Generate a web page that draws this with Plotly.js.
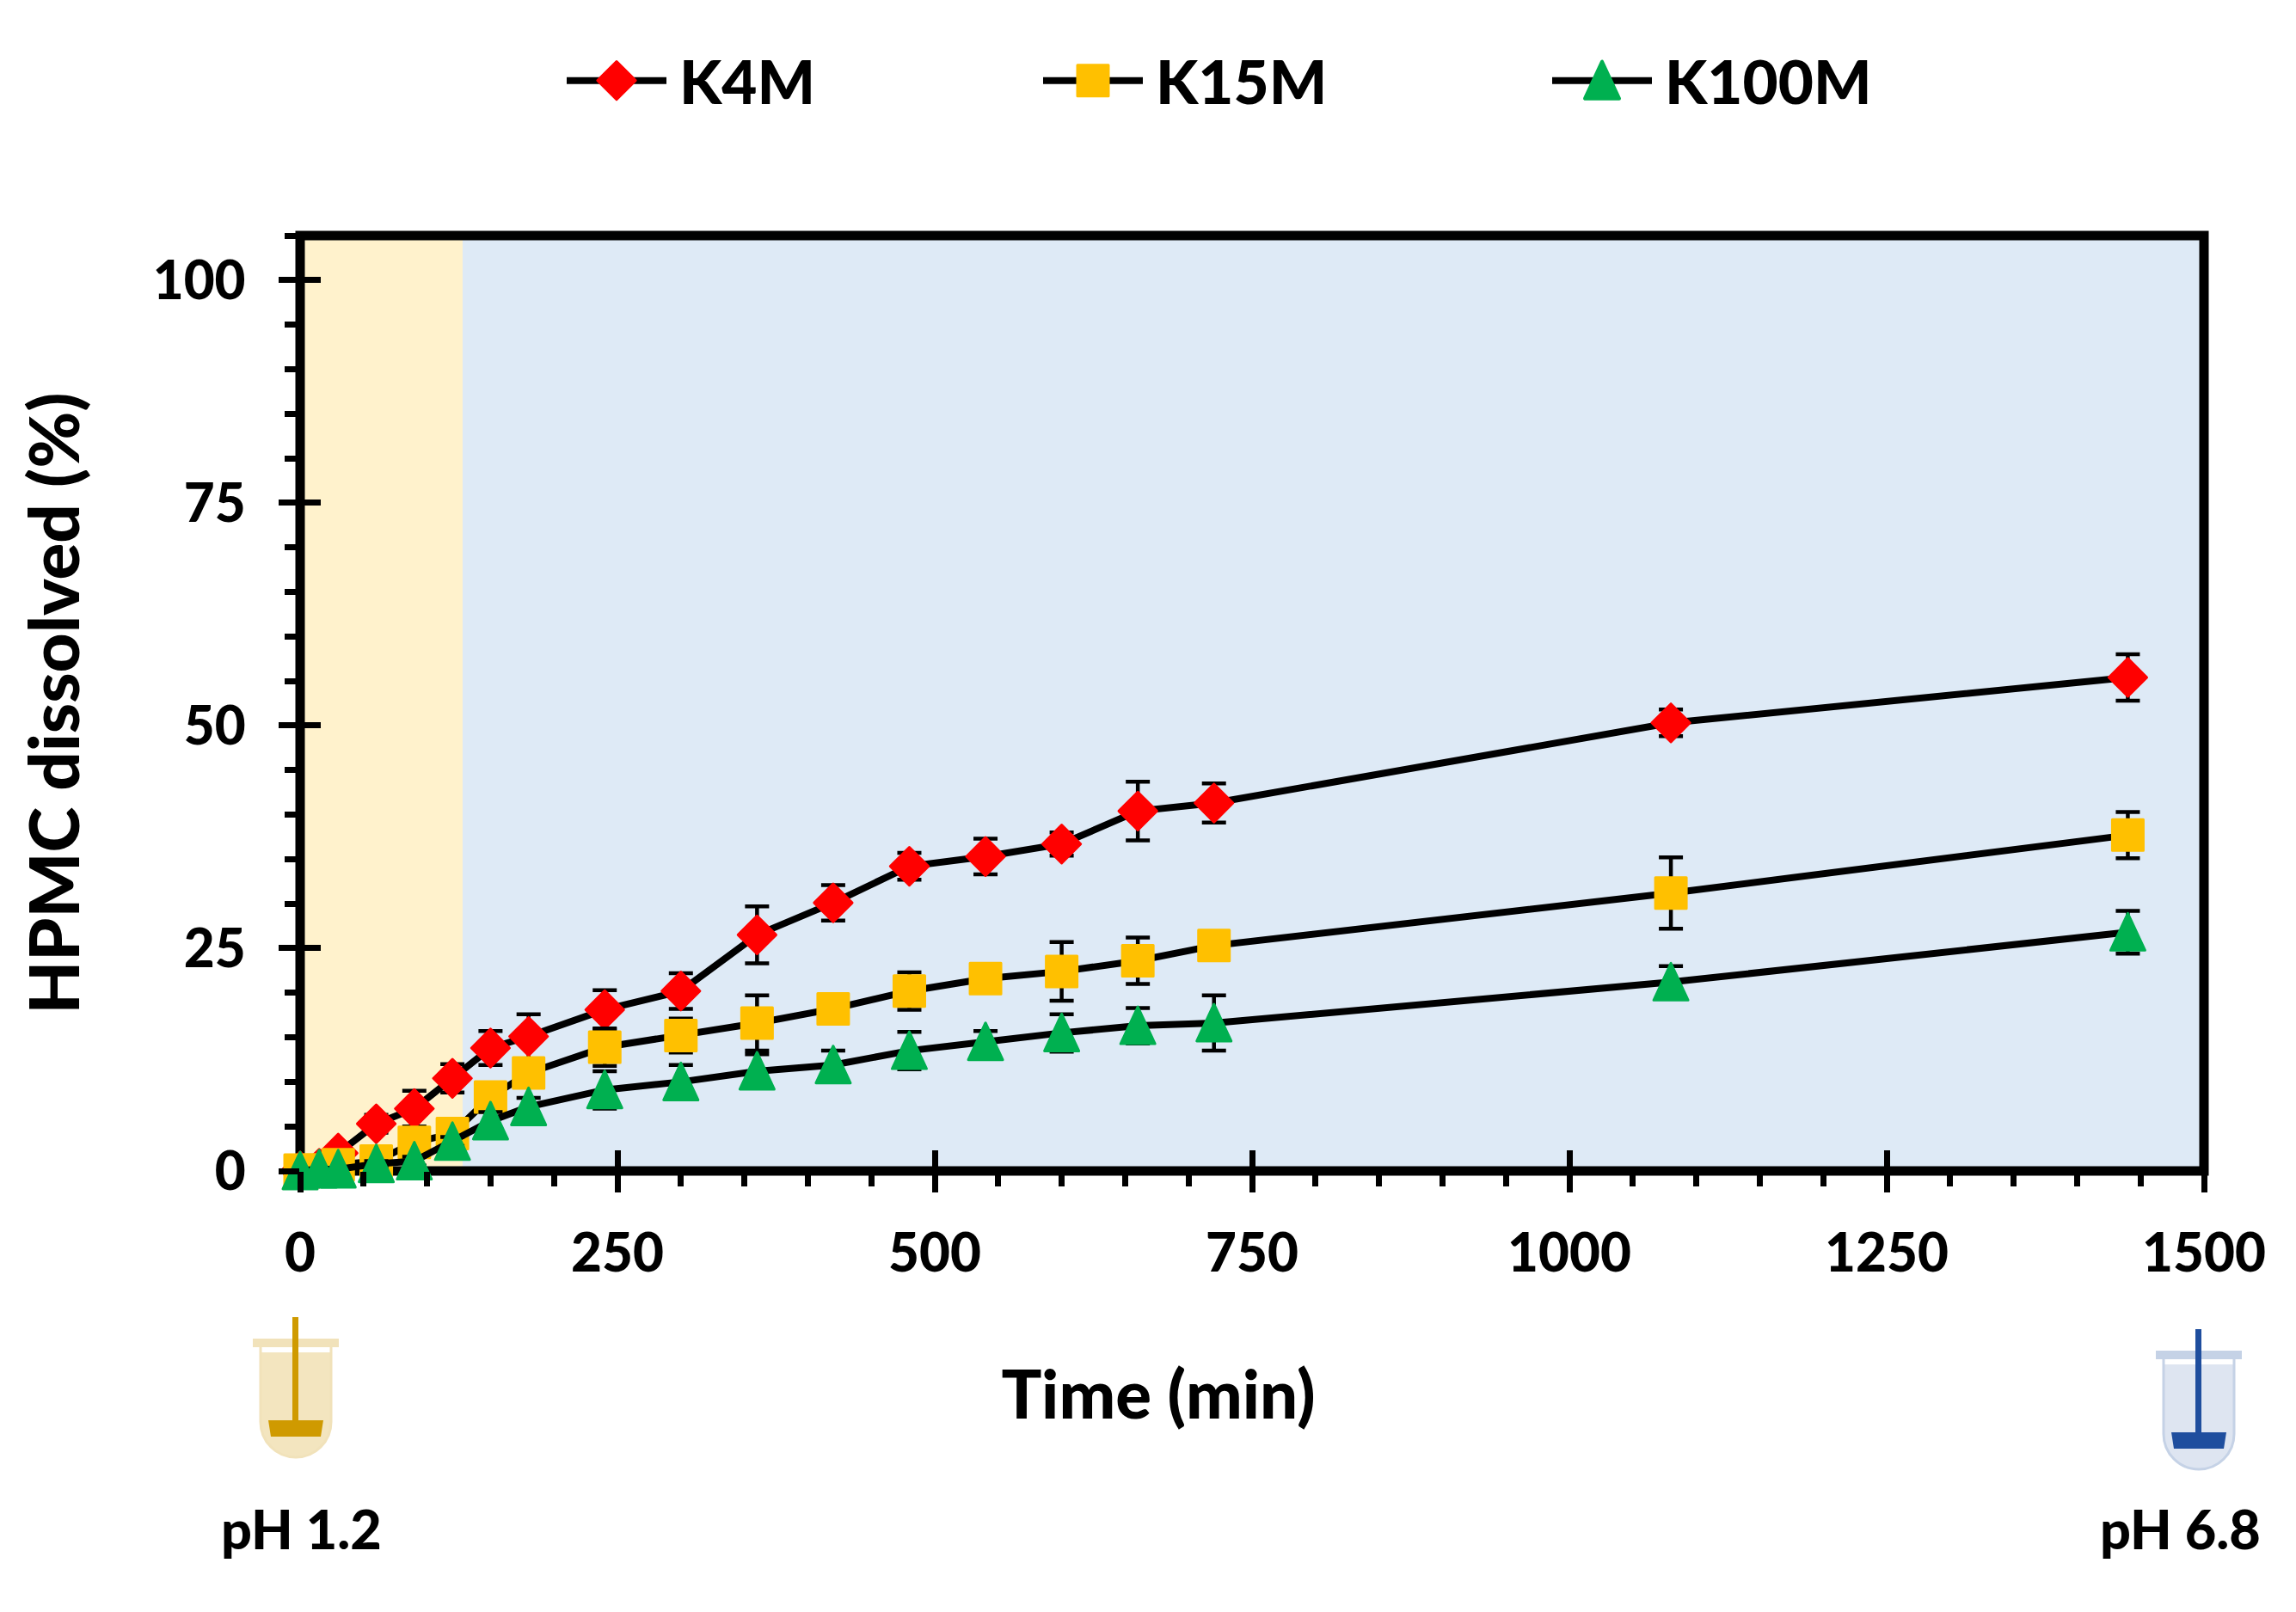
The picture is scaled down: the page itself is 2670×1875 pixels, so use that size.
<!DOCTYPE html>
<html>
<head>
<meta charset="utf-8">
<script src="https://cdn.plot.ly/plotly-3.0.1.min.js"></script>
<style>body{margin:0;background:#fff}</style>
</head>
<body>
<div id="chart" style="width:2670px;height:1875px"></div>
<script>
// values
var timeMin = [0, 15, 30, 60, 90, 120, 150, 180, 240, 300, 360, 420, 480, 540, 600, 660, 720, 1080, 1440];

var k4m    = [0, 0.3, 2.0, 5.3, 7.0, 10.4, 13.8, 15.1, 18.1, 20.2, 26.5, 30.1, 34.2, 35.3, 36.7, 40.4, 41.3, 50.3, 55.4];
var k4mErr = [0, 0.1, 0.5, 1.0, 2.0, 1.6, 1.9, 2.5, 2.2, 2.0, 3.2, 2.0, 1.5, 2.0, 1.3, 3.3, 2.2, 1.5, 2.6];

var k15m    = [0.1, 0.1, 0.7, 1.1, 3.2, 4.2, 8.3, 11.0, 13.9, 15.2, 16.6, 18.2, 20.2, 21.6, 22.4, 23.6, 25.3, 31.2, 37.7];
var k15mErr = [0, 0.1, 0.3, 0.5, 1.0, 1.0, 1.5, 1.6, 2.1, 1.9, 3.1, 1.2, 2.1, 1.0, 3.3, 2.6, 1.0, 4.0, 2.6];

var k100m    = [0, 0.2, 0.2, 0.8, 1.1, 3.3, 5.6, 7.2, 9.1, 10.0, 11.2, 11.9, 13.5, 14.5, 15.5, 16.3, 16.6, 21.2, 26.8];
var k100mErr = [0, 0.1, 0.1, 0.3, 0.5, 0.5, 1.0, 1.0, 2.1, 1.9, 1.9, 1.6, 2.1, 1.2, 2.1, 2.0, 3.1, 1.8, 2.4];

var acidEnd = 128; // pH change

// plot box in page pixels
var L = 349, R = 2563, T = 274, B = 1362;
function px(x) { return (x - L) / (R - L); }
function py(y) { return (B - y) / (B - T); }

var fam = 'Lato, "Open Sans", sans-serif';
var tickFont = {family: fam, size: 62, weight: 900, color: '#000'};

function series(name, y, err, symbol, size, color) {
    return {
        x: timeMin, y: y, name: name,
        mode: 'lines+markers', type: 'scatter', cliponaxis: false,
        line: {color: '#000', width: 8},
        marker: {symbol: symbol, size: size, color: color, line: {color: color, width: 3}},
        error_y: {type: 'data', array: err, visible: true, color: '#000', thickness: 4.5, width: 14}
    };
}

var traces = [
    series('K4M', k4m, k4mErr, 'diamond', 34, '#FF0000'),
    series('K15M', k15m, k15mErr, 'square', 36, '#FFC000'),
    series('K100M', k100m, k100mErr, 'triangle-up', 36, '#00B050')
];

function beaker(dark, light, edge) {
    var s = '<svg xmlns="http://www.w3.org/2000/svg" width="100" height="165" viewBox="0 0 100 165">' +
        '<path d="M9 41H91V122A41 41 0 0 1 9 122Z" fill="' + light + '"/>' +
        '<path d="M9 25V122A41 41 0 0 0 91 122V25" fill="none" stroke="' + edge + '" stroke-width="3"/>' +
        '<rect x="0" y="25" width="100" height="10" fill="' + edge + '"/>' +
        '<rect x="46" y="0" width="7" height="125" fill="' + dark + '"/>' +
        '<path d="M18 120H82L79 139H21Z" fill="' + dark + '"/></svg>';
    return 'data:image/svg+xml;charset=utf-8,' + encodeURIComponent(s);
}

function iconAt(src, left, top) {
    return {source: src, xref: 'paper', yref: 'paper', xanchor: 'left', yanchor: 'top',
        x: px(left), y: py(top), sizex: 100 / (R - L), sizey: 165 / (B - T),
        sizing: 'stretch', layer: 'above'};
}

function labelAt(text, x, y) {
    return {text: text, xref: 'paper', yref: 'paper', x: px(x), y: py(y), showarrow: false,
        xanchor: 'center', yanchor: 'middle', font: {family: fam, size: 63, weight: 900, color: '#000'}};
}

var layout = {
    width: 2670, height: 1875,
    margin: {l: L, r: 2670 - R, t: T, b: 1875 - B, pad: 0},
    paper_bgcolor: '#fff',
    plot_bgcolor: '#DEEAF6',
    font: {family: fam, color: '#000'},
    legend: {orientation: 'h', x: px(654), y: py(94), xanchor: 'left', yanchor: 'middle',
        itemwidth: 116, entrywidth: 450, entrywidthmode: 'pixels', bgcolor: 'rgba(0,0,0,0)',
        font: {family: fam, size: 71, weight: 900, color: '#000'}, itemclick: false},
    xaxis: {
        range: [0, 1500], dtick: 250, tick0: 0, ticks: 'outside', ticklen: 24, tickwidth: 7, tickcolor: '#000',
        minor: {ticks: 'outside', dtick: 50, ticklen: 17, tickwidth: 7, tickcolor: '#000'},
        showgrid: false, zeroline: false, showline: false,
        tickfont: tickFont, ticklabelstandoff: 18,
        title: {text: 'Time (min)', font: {family: fam, size: 78, weight: 900, color: '#000'}}
    },
    yaxis: {
        range: [0, 105], tickvals: [0, 25, 50, 75, 100], ticks: 'outside', ticklen: 24, tickwidth: 7, tickcolor: '#000',
        minor: {ticks: 'outside', dtick: 5, ticklen: 17, tickwidth: 7, tickcolor: '#000'},
        showgrid: false, zeroline: false, showline: false,
        tickfont: tickFont, ticklabelstandoff: 26,
        title: {text: 'HPMC dissolved (%)', standoff: 58, font: {family: fam, size: 80, weight: 900, color: '#000'}}
    },
    // second pair of axes only for the inward half of the major ticks
    xaxis2: {overlaying: 'x', anchor: 'y2', side: 'bottom', range: [0, 1500], dtick: 250, tick0: 0,
        ticks: 'inside', ticklen: 24, tickwidth: 7, tickcolor: '#000', showticklabels: false,
        showgrid: false, zeroline: false, showline: false},
    yaxis2: {overlaying: 'y', anchor: 'x2', side: 'left', range: [0, 105], tickvals: [0, 25, 50, 75, 100],
        ticks: 'inside', ticklen: 24, tickwidth: 7, tickcolor: '#000', showticklabels: false,
        showgrid: false, zeroline: false, showline: false},
    shapes: [
        {type: 'rect', xref: 'x', yref: 'paper', x0: 0, x1: acidEnd, y0: 0, y1: 1,
            fillcolor: '#FFF2CC', line: {width: 0}, layer: 'below'},
        // frame centred on the axis ends, as in the original
        {type: 'rect', xref: 'paper', yref: 'paper', x0: 0, x1: 1, y0: 0, y1: 1,
            fillcolor: 'rgba(0,0,0,0)', line: {color: '#000', width: 11}, layer: 'below'}
    ],
    images: [
        iconAt(beaker('#CF9A00', '#F3E5BF', '#F1E2BA'), 294, 1532),
        iconAt(beaker('#1F4E9E', '#DEE5F1', '#C5D2E6'), 2507, 1546)
    ],
    annotations: [labelAt('pH 1.2', 350, 1777), labelAt('pH 6.8', 2535, 1777)]
};

// the dummy trace keeps the second axis pair on the page
traces.push({x: [0], y: [0], xaxis: 'x2', yaxis: 'y2', mode: 'markers', marker: {opacity: 0}, showlegend: false, hoverinfo: 'skip'});

var triangleD = 'M-20,21H20L0,-22Z';
var legendOffset = [0, 554, 1146];

Plotly.newPlot('chart', traces, layout, {displayModeBar: false, staticPlot: true}).then(function (gd) {
    // marker shapes: rounded corners and the taller triangle of the original
    var groups = gd.querySelectorAll('.scatterlayer .trace');
    var dByTrace = [];
    groups.forEach(function (g, i) {
        if (i > 2) return;
        g.querySelectorAll('.points path').forEach(function (p) {
            if (i === 2) p.setAttribute('d', triangleD);
            p.style.strokeLinejoin = 'round';
            dByTrace[i] = p.getAttribute('d');
        });
    });
    // legend: same marker as the plot, and the original's spacing
    gd.querySelectorAll('.legend .traces').forEach(function (t, i) {
        var m = /translate\(([^,]+),\s*([^)]+)\)/.exec(t.getAttribute('transform'));
        t.setAttribute('transform', 'translate(' + legendOffset[i] + ',' + m[2] + ')');
        var p = t.querySelector('.legendpoints path');
        if (p) {
            p.setAttribute('d', dByTrace[i]);
            p.style.strokeWidth = (i === 2 ? 4 : 3) + 'px';
            p.style.strokeLinejoin = 'round';
        }
        var txt = t.querySelector('.legendtext');
        txt.setAttribute('x', parseFloat(txt.getAttribute('x')) + 10);
    });
    var xt = gd.querySelector('.xtitle');
    xt.setAttribute('x', 1347);
    xt.setAttribute('y', 1650);
});
</script>
</body>
</html>
